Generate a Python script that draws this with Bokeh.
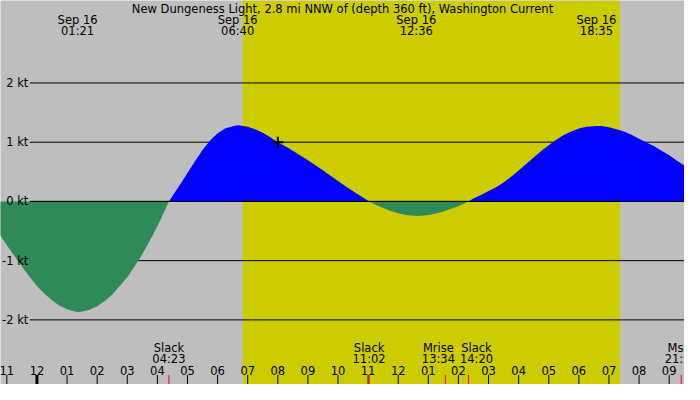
import numpy as np
from bokeh.plotting import figure
from bokeh.models import ColumnDataSource, Range1d
from bokeh.core.properties import value
from bokeh.embed import file_html
from bokeh.resources import INLINE

# ---------------- data (hours since 00:00 Sep 16) ----------------
title = "New Dungeness Light, 2.8 mi NNW of (depth 360 ft), Washington Current"

curve_t = [-1.25, -1.0, -0.75, -0.5, -0.25, 0.0, 0.25, 0.5, 0.75, 1.0, 1.25, 1.375,
           1.5, 1.75, 2.0, 2.25, 2.5, 2.75, 3.0, 3.25, 3.5, 3.75, 4.0, 4.25, 4.383,
           4.5, 4.75, 5.0, 5.25, 5.5, 5.75, 6.0, 6.25, 6.5, 6.667, 6.75, 7.0, 7.25,
           7.5, 7.75, 8.0, 8.25, 8.5, 8.75, 9.0, 9.25, 9.5, 9.75, 10.0, 10.25,
           10.5, 10.75, 11.033, 11.25, 11.5, 11.75, 12.0, 12.25, 12.6, 12.75, 13.0,
           13.25, 13.5, 13.75, 14.0, 14.333, 14.5, 14.75, 15.0, 15.25, 15.5, 15.75,
           16.0, 16.25, 16.5, 16.75, 17.0, 17.25, 17.5, 17.75, 18.0, 18.25, 18.583,
           18.75, 19.0, 19.25, 19.5, 19.75, 20.0, 20.25, 20.5, 20.75, 21.0, 21.25,
           21.55]
curve_kt = [-0.55, -0.74, -0.92, -1.10, -1.27, -1.43, -1.56, -1.67, -1.76, -1.82,
            -1.86, -1.87, -1.86, -1.83, -1.77, -1.68, -1.57, -1.43, -1.28, -1.09,
            -0.89, -0.66, -0.42, -0.15, 0.0,
            0.09, 0.28, 0.48, 0.68, 0.87, 1.03, 1.15, 1.23, 1.27, 1.285, 1.283,
            1.26, 1.22, 1.16, 1.085, 1.00, 0.93, 0.855, 0.775, 0.695, 0.61, 0.525,
            0.435, 0.345, 0.255, 0.17, 0.09, 0.0,
            -0.055, -0.11, -0.16, -0.20, -0.23, -0.245, -0.243, -0.23, -0.205,
            -0.17, -0.125, -0.08, 0.0,
            0.05, 0.11, 0.175, 0.24, 0.32, 0.415, 0.52, 0.63, 0.74, 0.85, 0.95, 1.04,
            1.12, 1.18, 1.23, 1.26, 1.275, 1.272, 1.25, 1.22, 1.18, 1.125, 1.06,
            0.995, 0.93, 0.855, 0.78, 0.69, 0.59]

day_start = 6.84     # daylight shading
day_end = 19.37

now_t = 8.0
now_kt = 1.0

grid_levels = [2, 1, 0, -1, -2]
grid_labels = ["2 kt", "1 kt", "0 kt", "-1 kt", "-2 kt"]

hour_ticks = list(range(-1, 22))
hour_labels = ["11", "12", "01", "02", "03", "04", "05", "06", "07", "08", "09",
               "10", "11", "12", "01", "02", "03", "04", "05", "06", "07", "08", "09"]

peak_t = [1.35, 6.667, 12.6, 18.583]
peak_date = ["Sep 16", "Sep 16", "Sep 16", "Sep 16"]
peak_time = ["01:21", "06:40", "12:36", "18:35"]

event_t = [4.383, 11.033, 13.567, 14.333, 21.4]
event_name = ["Slack", "Slack", "Mrise", "Slack", "Mset"]
event_time = ["04:23", "11:02", "13:34", "14:20", "21:24"]
event_shift = [0, 0, -7, 8, 0]

# ---------------- layout ----------------
X_START, X_END = -1.211, 21.509
Y_TOP, Y_BOT = 3.392, -3.091
W, H = 684, 384
GRAY = "#bebebe"
YELLOW = "#cccc00"
BLUE = "#0000ff"
GREEN = "#2e8b57"
FONT = value("DejaVu Sans")
FS = "11.5px"


def ypx(py):
    return Y_TOP - py * (Y_TOP - Y_BOT) / 400.0


def xpx(px):
    return X_START + px * (X_END - X_START) / 700.0


p = figure(width=W, height=H, x_range=Range1d(X_START, X_END),
           y_range=Range1d(Y_BOT, Y_TOP), output_backend="svg",
           toolbar_location=None, min_border=0,
           x_axis_location=None, y_axis_location=None,
           background_fill_color=GRAY, border_fill_color=GRAY,
           outline_line_color=None)
p.grid.visible = False

# daylight
p.quad(left=[day_start], right=[day_end], bottom=[Y_BOT], top=[Y_TOP],
       fill_color=YELLOW, line_color=None)

# grid lines
p.segment(x0=[xpx(30)] * len(grid_levels), y0=grid_levels,
          x1=[X_END] * len(grid_levels), y1=grid_levels,
          line_color="black", line_width=1)

# current fills
t = np.array(curve_t)
v = np.array(curve_kt)
p.varea(x=t, y1=np.zeros_like(v), y2=np.clip(v, 0, None), fill_color=BLUE)
p.varea(x=t, y1=np.zeros_like(v), y2=np.clip(v, None, 0), fill_color=GREEN)

# zero line on top
p.segment(x0=[xpx(30)], y0=[0], x1=[X_END], y1=[0], line_color="black", line_width=1)

# y labels
p.text(x=[xpx(28.5)] * len(grid_levels), y=grid_levels, text=grid_labels,
       text_align="right", text_baseline="middle", text_font=FONT,
       text_font_size=FS, text_color="black")

# current-time marker
p.scatter(x=[now_t], y=[now_kt], marker="cross", size=11, line_width=2,
          line_color="black")

# title
p.text(x=[xpx(350)], y=[ypx(8.5)], text=[title], text_align="center",
       text_baseline="middle", text_font=FONT, text_font_size=FS, text_color="black")

# peak labels
p.text(x=peak_t, y=[ypx(20)] * len(peak_t), text=peak_date, text_align="center",
       text_baseline="middle", text_font=FONT, text_font_size=FS, text_color="black")
p.text(x=peak_t, y=[ypx(31.5)] * len(peak_t), text=peak_time, text_align="center",
       text_baseline="middle", text_font=FONT, text_font_size=FS, text_color="black")

# hour ticks
tick_w = [3 if h == 0 else 1 for h in hour_ticks]
p.segment(x0=hour_ticks, y0=[ypx(390)] * len(hour_ticks), x1=hour_ticks,
          y1=[ypx(400)] * len(hour_ticks), line_color="black", line_width=tick_w)
p.text(x=hour_ticks, y=[ypx(385.5)] * len(hour_ticks), text=hour_labels,
       text_align="center", text_baseline="middle", text_font=FONT,
       text_font_size=FS, text_color="black")

# event ticks and labels
p.segment(x0=event_t, y0=[ypx(390)] * len(event_t), x1=event_t,
          y1=[ypx(400)] * len(event_t), line_color="red", line_width=1)
ev = ColumnDataSource(dict(x=event_t, name=event_name, time=event_time,
                           shift=event_shift,
                           y1=[ypx(361.5)] * len(event_t),
                           y2=[ypx(373.5)] * len(event_t)))
p.text(x="x", y="y1", text="name", x_offset="shift", source=ev, text_align="center",
       text_baseline="middle", text_font=FONT, text_font_size=FS, text_color="black")
p.text(x="x", y="y2", text="time", x_offset="shift", source=ev, text_align="center",
       text_baseline="middle", text_font=FONT, text_font_size=FS, text_color="black")

open("out.html", "w").write(file_html(p, INLINE))
